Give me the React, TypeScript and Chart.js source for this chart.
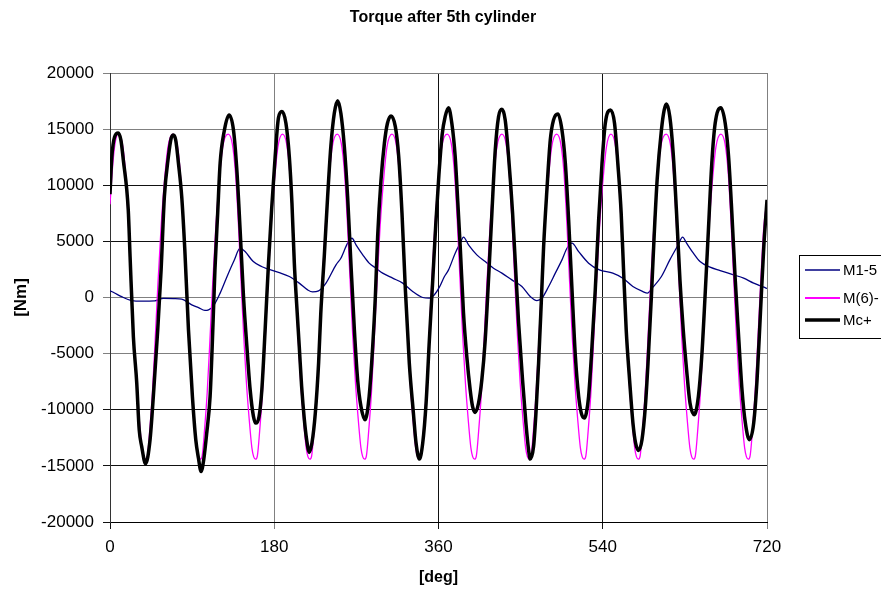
import React, { useEffect, useRef } from "react";
import { Chart, registerables } from "chart.js";

Chart.register(...registerables);

const chartTitle = "Torque after 5th cylinder";
const xAxisTitle = "[deg]";
const yAxisTitle = "[Nm]";
const seriesNames = ["M1-5", "M(6)-", "Mc+"];
const seriesColors = ["#000080", "#FF00FF", "#000000"];
const xTickValues = [0, 180, 360, 540, 720];
const yTickValues = [-20000, -15000, -10000, -5000, 0, 5000, 10000, 15000, 20000];

// M1-5 (navy)
const m15Deg = [
  0, 5, 12, 23.8, 35, 49, 58.5, 70, 78.6, 89.6, 97, 104, 108, 113, 120.7, 129.8, 136, 142.6, 148, 157,
  166, 173.7, 185.5, 196.5, 207.4, 216.6, 222, 228.6, 236.7, 247.7, 253, 260.4, 265.2, 269.6, 277, 284,
  291.5, 298.8, 309.8, 320.8, 331.7, 342.7, 350, 355.5, 361, 366.5, 371, 378.3, 383.8, 387.4, 392.9, 402,
  411.2, 420.3, 429.5, 440.4, 451.4, 460.5, 467.9, 473.3, 480.7, 488, 495.3, 500.8, 506.3, 513.6, 524.5,
  536.3, 551, 562, 573, 584, 588.9, 595, 604.3, 613.5, 622.7, 627.5, 631.9, 639.3, 646.6, 657.6, 668.7,
  683.4, 694.4, 705.4, 716.5, 720,
];
const m15Val = [
  600, 400, 100, -270, -320, -300, -80, -100, -150, -650, -900, -1150, -1100, -800, 390, 2170, 3300, 4390, 4090, 3200,
  2760, 2520, 2220, 1870, 1280, 680, 500, 590, 1280, 2910, 3500, 4840, 5280, 4690, 3800, 3060,
  2610, 2170, 1720, 1280, 530, 0, -60, 240, 920, 1870, 2460, 3950, 4840, 5370, 4690, 3800,
  3200, 2610, 2170, 1570, 980, 90, -270, -60, 980, 2170, 3350, 4390, 4840, 4090, 3060,
  2460, 2170, 1720, 980, 530, 390, 920, 1870, 3350, 4690, 5370, 4840, 3950, 3200, 2700, 2400,
  2020, 1720, 1280, 920, 800,
];

// M(6)- (magenta)
const m6Deg = [
  0, 3, 5.5,
  9, 13.5, 17, 20, 23, 26, 29, 32, 35, 37, 39, 41, 43.5, 46.5, 49.5, 52.5, 56, 59.5, 63.5,
  69, 73.5, 77, 80, 83, 86, 89, 92, 95, 97, 99, 101, 103.5, 106.5, 109.5, 112.5, 116, 119.5, 123.5,
  129.5, 134, 137.5, 140.5, 143.5, 146.5, 149.5, 152.5, 155.5, 157.5, 159.5, 161.5, 164, 167, 170, 173, 176.5, 180, 184,
  189, 193.5, 197, 200, 203, 206, 209, 212, 215, 217, 219, 221, 223.5, 226.5, 229.5, 232.5, 236, 239.5, 243.5,
  249, 253.5, 257, 260, 263, 266, 269, 272, 275, 277, 279, 281, 283.5, 286.5, 289.5, 292.5, 296, 299.5, 303.5,
  309, 313.5, 317, 320, 323, 326, 329, 332, 335, 337, 339, 341, 343.5, 346.5, 349.5, 352.5, 356, 359.5, 363.5,
  369.5, 374, 377.5, 380.5, 383.5, 386.5, 389.5, 392.5, 395.5, 397.5, 399.5, 401.5, 404, 407, 410, 413, 416.5, 420, 424,
  429.5, 434, 437.5, 440.5, 443.5, 446.5, 449.5, 452.5, 455.5, 457.5, 459.5, 461.5, 464, 467, 470, 473, 476.5, 480, 484,
  489.5, 494, 497.5, 500.5, 503.5, 506.5, 509.5, 512.5, 515.5, 517.5, 519.5, 521.5, 524, 527, 530, 533, 536.5, 540, 544,
  549, 553.5, 557, 560, 563, 566, 569, 572, 575, 577, 579, 581, 583.5, 586.5, 589.5, 592.5, 596, 599.5, 603.5,
  609.5, 614, 617.5, 620.5, 623.5, 626.5, 629.5, 632.5, 635.5, 637.5, 639.5, 641.5, 644, 647, 650, 653, 656.5, 660, 664,
  669.5, 674, 677.5, 680.5, 683.5, 686.5, 689.5, 692.5, 695.5, 697.5, 699.5, 701.5, 704, 707, 710, 713, 716.5, 720,
];
const m6Val = [
  8300, 11800, 13700,
  14550, 13700, 11100, 6900, 1700, -3400, -7600, -10800, -13400, -14200, -14400, -14100, -11900, -8500, -3800, 1200, 6300, 10200, 13400,
  14550, 13700, 11100, 6900, 1700, -3400, -7600, -10800, -13400, -14200, -14400, -14100, -11900, -8500, -3800, 1200, 6300, 10200, 13400,
  14550, 13700, 11100, 6900, 1700, -3400, -7600, -10800, -13400, -14200, -14400, -14100, -11900, -8500, -3800, 1200, 6300, 10200, 13400,
  14550, 13700, 11100, 6900, 1700, -3400, -7600, -10800, -13400, -14200, -14400, -14100, -11900, -8500, -3800, 1200, 6300, 10200, 13400,
  14550, 13700, 11100, 6900, 1700, -3400, -7600, -10800, -13400, -14200, -14400, -14100, -11900, -8500, -3800, 1200, 6300, 10200, 13400,
  14550, 13700, 11100, 6900, 1700, -3400, -7600, -10800, -13400, -14200, -14400, -14100, -11900, -8500, -3800, 1200, 6300, 10200, 13400,
  14550, 13700, 11100, 6900, 1700, -3400, -7600, -10800, -13400, -14200, -14400, -14100, -11900, -8500, -3800, 1200, 6300, 10200, 13400,
  14550, 13700, 11100, 6900, 1700, -3400, -7600, -10800, -13400, -14200, -14400, -14100, -11900, -8500, -3800, 1200, 6300, 10200, 13400,
  14550, 13700, 11100, 6900, 1700, -3400, -7600, -10800, -13400, -14200, -14400, -14100, -11900, -8500, -3800, 1200, 6300, 10200, 13400,
  14550, 13700, 11100, 6900, 1700, -3400, -7600, -10800, -13400, -14200, -14400, -14100, -11900, -8500, -3800, 1200, 6300, 10200, 13400,
  14550, 13700, 11100, 6900, 1700, -3400, -7600, -10800, -13400, -14200, -14400, -14100, -11900, -8500, -3800, 1200, 6300, 10200, 13400,
  14550, 13700, 11100, 6900, 1700, -3400, -7600, -10800, -13400, -14200, -14400, -14100, -11900, -8500, -3800, 1200, 6300, 8600,
];

// Mc+ (black, thick)
const mcDeg = [
  0, 2, 5, 9, 12, 14.6, 20, 22, 25.6, 29.3, 32, 34.7, 39, 43.9, 47.5, 52.3, 56, 59.6, 64, 67,
  69.5, 72, 75, 78.6, 82, 86, 90.3, 94, 96.9, 99.8, 102.7, 106, 109.7, 112, 115, 118, 120.7, 125.4, 130.5, 135.3,
  139, 142.6, 146.3, 150, 153.6, 157.2, 159.8, 163.4, 166.4, 170, 173.7, 177.3, 181, 184.6, 188.4, 192.8, 196.5, 199.4, 202, 204.5,
  207.4, 210, 213, 215.5, 218.4, 221.3, 225, 228.6, 231, 234.8, 238.5, 242, 245.8, 249.5, 253, 256.8, 260.4, 264, 267.8, 271.4,
  275, 279.5, 284, 287.9, 290.8, 293.3, 297, 300.7, 304, 308, 312.7, 316.4, 320, 323.7, 328, 332.5, 335.4, 339, 342.7, 346.4,
  350, 353.7, 357, 360.5, 364, 367.3, 371, 374.6, 378.3, 381.2, 383.8, 387.4, 391, 394.7, 397.3, 400.2, 403.9, 407.5, 411.2, 414.8,
  418.5, 422.2, 425.8, 429.5, 433.1, 436.8, 441.2, 444.2, 447.8, 452.1, 455.8, 458.7, 460.5, 464.2, 466.8, 469.7, 472.6, 475.2, 478.8, 482.5,
  486, 490.9, 495.3, 499, 502.6, 506.3, 510, 513.6, 516.5, 519.8, 522, 524.5, 528.2, 531.8, 535.5, 539.2, 542.8, 548.5, 552.9, 556.5,
  560.2, 562.8, 565.7, 569.4, 573.1, 576, 579.3, 583, 586.7, 589.6, 593.3, 596.3, 599.6, 604.3, 607.3, 609.9, 613.5, 617.2, 620.9, 624.6,
  628.2, 631.9, 635.6, 640.4, 644.8, 648.5, 652.1, 655.8, 659.5, 663.2, 669.4, 674.2, 677.9, 681.5, 685.2, 688.9, 692.6, 696.3, 700.7, 705.4,
  709.1, 712.8, 716.5, 720,
];
const mcVal = [
  9200, 12500, 14300, 14650, 14000, 12250, 7800, 3650, -3470, -7600, -11780, -13260, -14800, -12670, -8800, -2880, 2460, 8990, 12550, 14180,
  14480, 14030, 11960, 8990, 4240, -2880, -8810, -12670, -14300, -15500, -14450, -12080, -8810, -4360, 2460, 7500, 11960, 14920, 16260, 14920,
  11360, 6020, 90, -4360, -8220, -10590, -11190, -10590, -8220, -2880, 3060, 8100, 12550, 16000, 16560, 15520, 12550, 8400, 3060, -500,
  -4360, -7920, -10890, -12670, -13800, -12970, -10300, -5840, -1390, 3650, 8990, 13440, 16410, 17530, 16410, 13440, 8990, 3060, -2880, -7330,
  -9700, -10890, -8810, -4360, 90, 5430, 10470, 13740, 15500, 16170, 15220, 12550, 7500, 680, -5840, -10300, -12970, -14390, -12970, -9400,
  -3770, 1570, 6500, 11000, 14500, 16110, 16910, 15520, 12550, 8400, 4540, -1390, -5250, -8220, -9700, -10240, -9400, -7330, -3770, 1570,
  7500, 13140, 16110, 16760, 15810, 12550, 7500, 3060, -2280, -7330, -11190, -13560, -14390, -13260, -10300, -5840, -500, 4540, 9580, 14030,
  15800, 16350, 14920, 11960, 6910, 680, -5250, -8810, -10300, -10740, -10300, -8810, -4360, 680, 6910, 11960, 15520, 16700, 15520, 11960,
  7500, 2460, -2880, -7330, -11190, -12970, -13620, -12670, -9700, -5840, 90, 5430, 10470, 14920, 16700, 17240, 16110, 12850, 7500, 1570,
  -2880, -6440, -9400, -10440, -8810, -5250, 90, 6020, 11960, 15520, 16910, 15520, 12550, 7500, 1570, -3470, -8220, -11190, -12670, -11190,
  -7330, -1390, 4540, 8700,
];

const darkYLines = [10000, 5000, -10000, -15000, -20000];
const darkXLines = [0, 360, 540];

function toPoints(xs: number[], ys: number[]) {
  return xs.map((x, i) => ({ x, y: ys[i] }));
}

const FONT = "'Liberation Sans', Arial, sans-serif";

const decorPlugin = {
  id: "decor",
  afterDraw(chart: any) {
    const ctx = chart.ctx as CanvasRenderingContext2D;
    ctx.save();
    // Title
    ctx.fillStyle = "#000";
    ctx.font = `bold 16px ${FONT}`;
    ctx.textAlign = "center";
    ctx.textBaseline = "middle";
    ctx.fillText(chartTitle, 443, 18);

    // Legend box
    ctx.strokeStyle = "#000";
    ctx.lineWidth = 1;
    ctx.strokeRect(799.5, 255.5, 100, 83);
    const rows = [270, 298, 320];
    const widths = [1.5, 2, 3.5];
    ctx.font = `15px ${FONT}`;
    ctx.textAlign = "left";
    ctx.textBaseline = "middle";
    for (let i = 0; i < seriesNames.length; i++) {
      ctx.beginPath();
      ctx.strokeStyle = seriesColors[i];
      ctx.lineWidth = widths[i];
      ctx.moveTo(805, rows[i]);
      ctx.lineTo(840, rows[i]);
      ctx.stroke();
      ctx.fillStyle = "#000";
      ctx.fillText(seriesNames[i], 843, rows[i] + 1);
    }
    ctx.restore();
  },
};

export default function App() {
  const ref = useRef<HTMLCanvasElement | null>(null);

  useEffect(() => {
    document.body.style.margin = "0";
    const canvas = ref.current;
    if (!canvas) return;
    const chart = new Chart(canvas, {
      type: "line",
      data: {
        datasets: [
          {
            label: seriesNames[0],
            data: toPoints(m15Deg, m15Val),
            borderColor: seriesColors[0],
            borderWidth: 1.3,
            pointRadius: 0,
            cubicInterpolationMode: "monotone",
            order: 3,
          },
          {
            label: seriesNames[1],
            data: toPoints(m6Deg, m6Val),
            borderColor: seriesColors[1],
            borderWidth: 1.3,
            pointRadius: 0,
            cubicInterpolationMode: "monotone",
            order: 2,
          },
          {
            label: seriesNames[2],
            data: toPoints(mcDeg, mcVal),
            borderColor: seriesColors[2],
            borderWidth: 3.5,
            pointRadius: 0,
            cubicInterpolationMode: "monotone",
            order: 1,
          },
        ],
      },
      options: {
        animation: false,
        responsive: false,
        devicePixelRatio: 1,
        layout: { padding: { left: 0, right: 114, top: 73, bottom: 0 } },
        plugins: {
          legend: { display: false },
          title: { display: false },
          tooltip: { enabled: false },
        },
        scales: {
          x: {
            type: "linear",
            min: 0,
            max: 720,
            afterFit: (s: any) => {
              s.height = 69;
            },
            afterBuildTicks: (s: any) => {
              s.ticks = xTickValues.map((v) => ({ value: v }));
            },
            ticks: {
              color: "#000",
              font: { family: FONT, size: 17 },
              padding: 8,
              maxRotation: 0,
              callback: (v: any) => String(v),
            },
            grid: {
              color: (c: any) => (darkXLines.includes(c.tick?.value) ? "#111" : "#808080"),
              lineWidth: 1,
              tickLength: 7,
            },
            border: { display: true, color: "#000", width: 1 },
            title: {
              display: true,
              text: xAxisTitle,
              color: "#000",
              font: { family: FONT, size: 16, weight: "bold" },
              padding: { top: 0, bottom: 4 },
            },
          },
          y: {
            type: "linear",
            min: -20000,
            max: 20000,
            afterFit: (s: any) => {
              s.width = 110;
            },
            afterBuildTicks: (s: any) => {
              s.ticks = yTickValues.map((v) => ({ value: v }));
            },
            ticks: {
              color: "#000",
              font: { family: FONT, size: 17 },
              padding: 9,
              callback: (v: any) => String(v),
            },
            grid: {
              color: (c: any) => (darkYLines.includes(c.tick?.value) ? "#111" : "#808080"),
              lineWidth: 1,
              tickLength: 7,
            },
            border: { display: true, color: "#333", width: 1 },
            title: {
              display: true,
              text: yAxisTitle,
              color: "#000",
              font: { family: FONT, size: 17, weight: "bold" },
              padding: { top: 11, bottom: 0 },
            },
          },
        },
      },
      plugins: [decorPlugin],
    });
    return () => chart.destroy();
  }, []);

  return <canvas ref={ref} width={881} height={591} style={{ display: "block", width: 881, height: 591 }} />;
}
